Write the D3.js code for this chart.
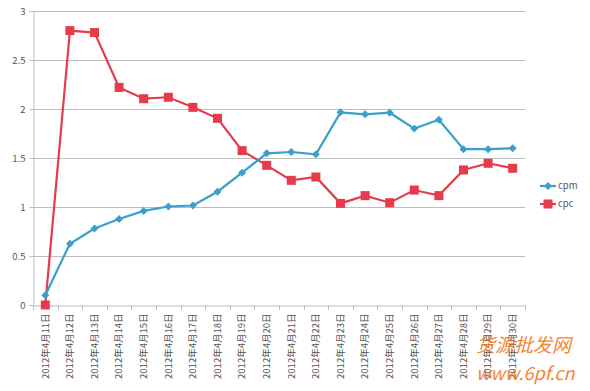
<!DOCTYPE html>
<html><head><meta charset="utf-8">
<script src="https://cdn.jsdelivr.net/npm/d3@7"></script>
<style>body{margin:0;background:#fff}svg{display:block}</style>
</head><body>
<svg id="c" width="590" height="391"></svg>
<script>
const categories = ["2012年4月11日","2012年4月12日","2012年4月13日","2012年4月14日","2012年4月15日","2012年4月16日","2012年4月17日","2012年4月18日","2012年4月19日","2012年4月20日","2012年4月21日","2012年4月22日","2012年4月23日","2012年4月24日","2012年4月25日","2012年4月26日","2012年4月27日","2012年4月28日","2012年4月29日","2012年4月30日"];
const cpm = [0.1,0.625,0.78,0.877,0.96,1.005,1.015,1.156,1.35,1.548,1.561,1.537,1.966,1.946,1.962,1.80,1.89,1.59,1.59,1.60];
const cpc = [0,2.80,2.78,2.22,2.105,2.12,2.017,1.905,1.575,1.425,1.272,1.306,1.037,1.116,1.044,1.173,1.116,1.378,1.446,1.395];
const yTicks = [0,0.5,1,1.5,2,2.5,3];
const seriesNames = ["cpm","cpc"];

const svg = d3.select("#c");
const L = 33, R = 525, T = 11, B = 305;
const font = "'Noto Sans CJK SC','Noto Sans',sans-serif";
const x = d3.scaleBand().domain(categories).range([L, R]);
const y = d3.scaleLinear().domain([0,3]).range([B, T]);
const blue = "#3a9fcb", red = "#e63a4d";

// gridlines
svg.append("g").selectAll("line").data(yTicks.filter(d=>d>0)).join("line")
  .attr("x1", L).attr("x2", R).attr("y1", d=>y(d)+0.5).attr("y2", d=>y(d)+0.5)
  .attr("stroke", "#bdbdbd").attr("stroke-width", 1);

// y axis
const ya = svg.append("g").attr("transform", `translate(${L+0.5},0)`)
  .call(d3.axisLeft(y).tickValues(yTicks).tickSize(4).tickPadding(4).tickFormat(d3.format("")));
ya.select(".domain").attr("stroke", "#bdbdbd");
ya.selectAll(".tick line").attr("stroke", "#bdbdbd");
ya.selectAll("text").attr("fill", "#555").style("font-family", font).style("font-size", "9.5px");
ya.selectAll(".tick").attr("transform", d=>`translate(0,${y(d)+0.5})`);

// x axis
const xa = svg.append("g").attr("transform", `translate(0,${B+0.5})`)
  .call(d3.axisBottom(x).tickSize(0).tickPadding(0));
xa.select(".domain").attr("stroke", "#bdbdbd");
xa.selectAll(".tick text").attr("fill", "#555").style("font-family", font).style("font-size", "9.5px")
  .attr("transform", "rotate(-90)").attr("text-anchor", "end").attr("x", -8).attr("y", 0).attr("dy", "0.35em");
// category boundary ticks
const bounds = categories.map(c=>x(c)).concat([R]);
svg.append("g").selectAll("line").data(bounds).join("line")
  .attr("x1", d=>Math.round(d)+0.5).attr("x2", d=>Math.round(d)+0.5).attr("y1", B).attr("y2", B+5)
  .attr("stroke", "#bdbdbd");

const cx = (d,i) => x(categories[i]) + x.bandwidth()/2;
const line = d3.line().x((d,i)=>cx(d,i)).y(d=>y(d));

// cpc
svg.append("path").datum(cpc).attr("d", line).attr("fill","none").attr("stroke", red).attr("stroke-width", 2.2);
svg.append("g").selectAll("rect").data(cpc).join("rect")
  .attr("x",(d,i)=>cx(d,i)-4.5).attr("y",d=>y(d)-4.5).attr("width",9).attr("height",9).attr("fill",red);
// cpm
svg.append("path").datum(cpm).attr("d", line).attr("fill","none").attr("stroke", blue).attr("stroke-width", 2.2);
const diamond = d3.symbol().type(d3.symbolDiamond2).size(40);
svg.append("g").selectAll("path").data(cpm).join("path")
  .attr("d", diamond).attr("transform",(d,i)=>`translate(${cx(d,i)},${y(d)})`).attr("fill",blue);

// legend
const lg = svg.append("g");
[[seriesNames[0], blue, 186],[seriesNames[1], red, 204]].forEach(([n,c,yy],k)=>{
  lg.append("line").attr("x1",540).attr("x2",556).attr("y1",yy).attr("y2",yy).attr("stroke",c).attr("stroke-width",2.2);
  if(k===0) lg.append("path").attr("d",diamond).attr("transform",`translate(548,${yy})`).attr("fill",c);
  else lg.append("rect").attr("x",543.5).attr("y",yy-4.5).attr("width",9).attr("height",9).attr("fill",c);
  lg.append("text").attr("x",558).attr("y",yy).attr("dy","0.35em").text(n)
    .attr("fill","#555").style("font-family",font).style("font-size","9.5px");
});

// watermark
svg.append("text").attr("x",476).attr("y",352).text("货源批发网")
  .attr("fill","#f07a1a").style("font-family",font).style("font-size","19px").style("font-style","italic").attr("opacity",0.9);
svg.append("text").attr("x",476).attr("y",380).text("www.6pf.cn")
  .attr("fill","#f07a1a").style("font-family",font).style("font-size","18px").style("font-style","italic").attr("opacity",0.9);
</script>
</body></html>
